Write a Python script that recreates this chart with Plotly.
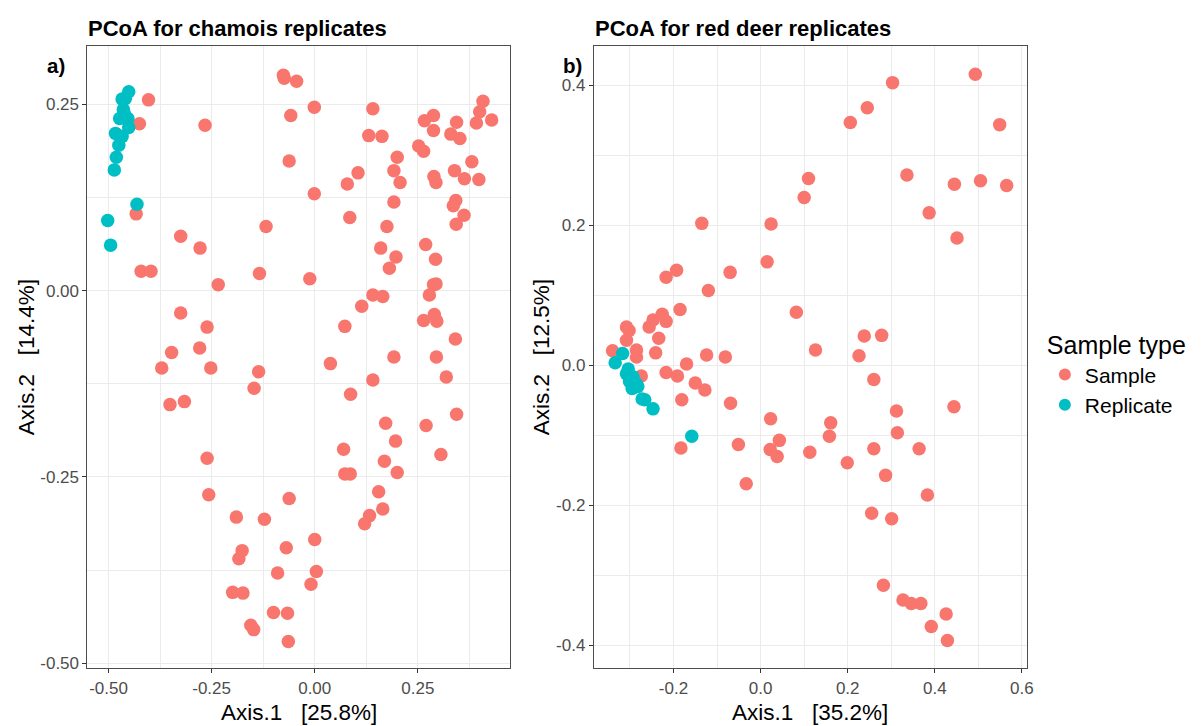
import plotly.graph_objects as go

# ---------------- data: chamois (panel a) ----------------
cham_sample_x = [-0.403, -0.425, -0.266, -0.076, -0.074, -0.044, -0.058, -0.062, -0.433, -0.118,
                 -0.325, -0.278, -0.421, -0.397, -0.134, -0.234, -0.001, 0.141, 0.266, 0.288,
                 0.288, 0.131, 0.163, 0.344, 0.330, 0.352, 0.408, 0.400, 0.392, 0.429,
                 0.252, 0.264, 0.200, 0.192, 0.207, 0.105, 0.079, 0.289, 0.294, 0.339,
                 0.363, 0.381, 0.398, -0.001, 0.192, 0.085, 0.342, 0.336, 0.362, 0.343,
                 0.175, 0.160, 0.197, 0.181, 0.269, 0.293, 0.294, 0.288, -0.012, 0.141,
                 0.165, 0.278, -0.325, -0.261, -0.279, -0.347, -0.371, -0.252, -0.136, -0.147,
                 -0.351, -0.316, -0.261, -0.257, -0.062, -0.190, -0.122, 0.114, 0.073, 0.264,
                 0.290, 0.296, 0.341, 0.038, 0.192, 0.295, 0.319, 0.141, 0.087, 0.344,
                 0.172, 0.270, 0.196, 0.070, 0.306, 0.169, 0.200, 0.073, 0.086, 0.155,
                 0.165, 0.133, 0.121, 0.000, -0.069, -0.176, -0.184, -0.090, 0.004, -0.009,
                 -0.199, -0.174, -0.100, -0.066, -0.155, -0.148, -0.064]
cham_sample_y = [0.256, 0.224, 0.222, 0.289, 0.285, 0.281, 0.235, 0.174, 0.103, 0.086,
                 0.073, 0.057, 0.026, 0.026, 0.023, 0.008, 0.246, 0.244, 0.228, 0.235,
                 0.215, 0.208, 0.207, 0.226, 0.210, 0.204, 0.254, 0.240, 0.225, 0.229,
                 0.194, 0.187, 0.179, 0.161, 0.145, 0.158, 0.143, 0.153, 0.145, 0.161,
                 0.150, 0.173, 0.149, 0.130, 0.119, 0.098, 0.121, 0.114, 0.101, 0.089,
                 0.086, 0.057, 0.045, 0.030, 0.062, 0.042, 0.009, 0.008, 0.016, -0.006,
                 -0.008, -0.006, -0.030, -0.049, -0.077, -0.083, -0.104, -0.104, -0.109, -0.131,
                 -0.153, -0.149, -0.225, -0.274, -0.279, -0.304, -0.307, -0.021, -0.048, -0.040,
                 -0.032, -0.041, -0.065, -0.098, -0.089, -0.089, -0.116, -0.120, -0.139, -0.166,
                 -0.178, -0.181, -0.202, -0.213, -0.220, -0.229, -0.244, -0.246, -0.246, -0.270,
                 -0.293, -0.302, -0.313, -0.334, -0.345, -0.349, -0.360, -0.379, -0.377, -0.394,
                 -0.405, -0.406, -0.432, -0.433, -0.449, -0.455, -0.471]
cham_rep_x = [-0.451, -0.467, -0.459, -0.464, -0.461, -0.473, -0.453, -0.451, -0.483, -0.467,
              -0.475, -0.481, -0.486, -0.431, -0.502, -0.495]
cham_rep_y = [0.267, 0.257, 0.258, 0.243, 0.237, 0.231, 0.231, 0.219, 0.211, 0.207,
              0.195, 0.179, 0.162, 0.116, 0.094, 0.061]

# ---------------- data: red deer (panel b) ----------------
deer_sample_x = [-0.135, 0.024, -0.217, -0.193, -0.070, 0.015, -0.120, 0.303, 0.493, 0.245,
                 0.206, 0.549, 0.336, 0.110, 0.100, 0.445, 0.505, 0.565, 0.387, 0.451,
                 -0.185, -0.226, -0.247, -0.217, -0.256, -0.308, -0.302, -0.234, -0.308, -0.285,
                 -0.340, -0.241, -0.285, -0.124, -0.081, -0.170, -0.217, -0.191, -0.274, -0.150,
                 -0.128, -0.181, -0.069, 0.023, 0.043, 0.022, 0.038, -0.051, -0.183, -0.033,
                 0.082, 0.126, 0.238, 0.278, 0.226, 0.260, 0.444, 0.312, 0.161, 0.158,
                 0.314, 0.113, 0.199, 0.260, 0.364, 0.287, 0.383, 0.255, 0.301, 0.282,
                 0.327, 0.346, 0.368, 0.426, 0.392, 0.429]
deer_sample_y = [0.203, 0.202, 0.126, 0.136, 0.133, 0.148, 0.107, 0.404, 0.416, 0.368,
                 0.347, 0.344, 0.272, 0.267, 0.240, 0.259, 0.264, 0.257, 0.218, 0.182,
                 0.080, 0.073, 0.065, 0.063, 0.055, 0.055, 0.050, 0.039, 0.036, 0.022,
                 0.021, 0.018, 0.012, 0.015, 0.012, 0.002, -0.010, -0.015, -0.015, -0.025,
                 -0.035, -0.049, -0.054, -0.076, -0.107, -0.120, -0.130, -0.113, -0.118, -0.169,
                 0.076, 0.022, 0.042, 0.043, 0.014, -0.020, -0.059, -0.065, -0.082, -0.101,
                 -0.096, -0.124, -0.139, -0.119, -0.119, -0.157, -0.185, -0.211, -0.219, -0.314,
                 -0.335, -0.340, -0.340, -0.355, -0.373, -0.393]
deer_rep_x = [-0.317, -0.334, -0.304, -0.308, -0.293, -0.301, -0.285, -0.282, -0.295, -0.272,
              -0.266, -0.247, -0.158]
deer_rep_y = [0.017, 0.004, -0.005, -0.012, -0.016, -0.023, -0.026, -0.030, -0.033, -0.048,
              -0.049, -0.062, -0.101]

# ---------------- labels ----------------
group_names = ["Sample", "Replicate"]
group_colors = ["#F8766D", "#00BFC4"]
titles = ["PCoA for chamois replicates", "PCoA for red deer replicates"]
panel_tags = ["a)", "b)"]
x_titles = ["Axis.1   [25.8%]", "Axis.1   [35.2%]"]
y_titles = ["Axis.2   [14.4%]", "Axis.2   [12.5%]"]
left_ticks = [-0.50, -0.25, 0.00, 0.25]
left_tick_text = ["-0.50", "-0.25", "0.00", "0.25"]
right_xticks = [-0.2, 0.0, 0.2, 0.4, 0.6]
right_yticks = [-0.4, -0.2, 0.0, 0.2, 0.4]
right_tick_text_x = ["-0.2", "0.0", "0.2", "0.4", "0.6"]
right_tick_text_y = ["-0.4", "-0.2", "0.0", "0.2", "0.4"]

FONT = "Liberation Sans, Arial, sans-serif"
W, H = 1201, 726
MSIZE = 13.5

fig = go.Figure()
panels = [
    ((cham_sample_x, cham_sample_y), (cham_rep_x, cham_rep_y), "x", "y", True),
    ((deer_sample_x, deer_sample_y), (deer_rep_x, deer_rep_y), "x2", "y2", False),
]
for (s, r, xa, ya, show) in panels:
    for name, col, (xs, ys) in zip(group_names, group_colors, [s, r]):
        fig.add_trace(go.Scatter(
            x=xs, y=ys, mode="markers", name=name, legendgroup=name, showlegend=show,
            xaxis=xa, yaxis=ya,
            marker=dict(color=col, size=MSIZE, line=dict(width=0)),
        ))

def px_x(p):
    return p / W

def px_y(p):
    return (H - p) / H

grid = "#EBEBEB"
axis_common = dict(
    showline=True, mirror=True, linecolor="#4D4D4D", linewidth=1.1,
    ticks="outside", ticklen=4, tickcolor="#333333", tickwidth=1,
    tickfont=dict(family=FONT, size=17, color="#4D4D4D"),
    showgrid=True, gridcolor=grid, gridwidth=1, zeroline=False,
)
yb, yt = px_y(673), px_y(46)

fig.update_layout(
    width=W, height=H, margin=dict(l=0, r=0, t=0, b=0),
    paper_bgcolor="white", plot_bgcolor="white",
    font=dict(family=FONT),
    xaxis=dict(domain=[px_x(88), px_x(513)], range=[-0.551, 0.4735],
               tickvals=left_ticks, ticktext=left_tick_text,
               minor=dict(tickvals=[-0.375, -0.125, 0.125, 0.375], showgrid=True,
                          gridcolor=grid, gridwidth=0.6, ticks=""),
               anchor="y", **axis_common),
    yaxis=dict(domain=[yb, yt], range=[-0.507, 0.3287],
               tickvals=left_ticks, ticktext=left_tick_text,
               minor=dict(tickvals=[-0.375, -0.125, 0.125], showgrid=True,
                          gridcolor=grid, gridwidth=0.6, ticks=""),
               anchor="x", **axis_common),
    xaxis2=dict(domain=[px_x(597.3), px_x(1032.7)], range=[-0.383, 0.611],
                tickvals=right_xticks, ticktext=right_tick_text_x,
                minor=dict(tickvals=[-0.3, -0.1, 0.1, 0.3, 0.5], showgrid=True,
                           gridcolor=grid, gridwidth=0.6, ticks=""),
                anchor="y2", **axis_common),
    yaxis2=dict(domain=[yb, yt], range=[-0.4327, 0.4568],
                tickvals=right_yticks, ticktext=right_tick_text_y,
                minor=dict(tickvals=[-0.3, -0.1, 0.1, 0.3], showgrid=True,
                           gridcolor=grid, gridwidth=0.6, ticks=""),
                anchor="x2", **axis_common),
    legend=dict(
        x=px_x(1051), y=px_y(324), xanchor="left", yanchor="top",
        title=dict(text="Sample type", font=dict(family=FONT, size=25, color="black")),
        font=dict(family=FONT, size=21, color="black"),
        itemsizing="constant", tracegroupgap=0, bgcolor="rgba(0,0,0,0)",
    ),
)

annos = []
for i, (tl, tag, xt, yt_) in enumerate(zip(titles, panel_tags, x_titles, y_titles)):
    left = [88, 597.3][i]
    right = [513, 1032.7][i]
    annos.append(dict(text="<b>%s</b>" % tl, x=px_x(left - 1), y=px_y(28.5), xref="paper", yref="paper",
                      xanchor="left", yanchor="middle", showarrow=False,
                      font=dict(family=FONT, size=22, color="black")))
    annos.append(dict(text="<b>%s</b>" % tag, x=px_x([45, 564][i]), y=px_y(66), xref="paper", yref="paper",
                      xanchor="left", yanchor="middle", showarrow=False,
                      font=dict(family=FONT, size=20.5, color="black")))
    annos.append(dict(text=xt.replace(" ", "\u00a0"), x=px_x((left + right) / 2), y=px_y(717.5),
                      xref="paper", yref="paper", xanchor="center", yanchor="middle", showarrow=False,
                      font=dict(family=FONT, size=22.5, color="black")))
    annos.append(dict(text=yt_.replace(" ", "\u00a0"), x=px_x([27, 545][i]), y=px_y(360),
                      xref="paper", yref="paper", xanchor="center", yanchor="middle", showarrow=False,
                      textangle=-90, font=dict(family=FONT, size=22.5, color="black")))
fig.update_layout(annotations=annos)

fig.write_html("out.html")
